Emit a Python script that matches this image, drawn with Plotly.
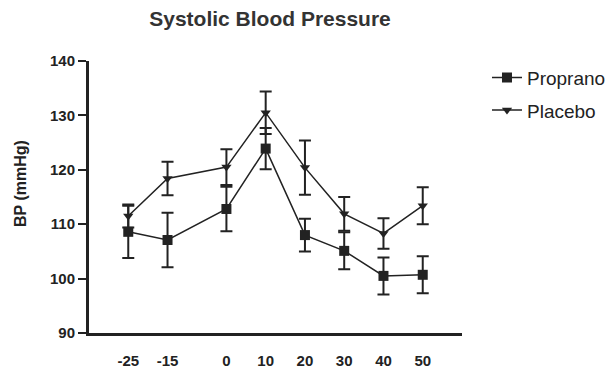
import plotly.graph_objects as go

time_min = [-25, -15, 0, 10, 20, 30, 40, 50]
propranolol = [108.6, 107.1, 112.8, 123.9, 108.0, 105.1, 100.5, 100.7]
propranolol_se = [4.8, 5.0, 4.1, 3.8, 3.0, 3.4, 3.4, 3.4]
placebo = [111.5, 118.4, 120.5, 130.5, 120.4, 111.9, 108.3, 113.4]
placebo_se = [2.1, 3.1, 3.3, 3.9, 5.0, 3.1, 2.8, 3.4]
y_ticks = [90, 100, 110, 120, 130, 140]

FONT = "Liberation Sans, Arial, sans-serif"
INK = "#222222"

fig = go.Figure()
fig.add_trace(go.Scatter(
    x=time_min, y=propranolol, name="Propranolol", legendgroup="a",
    mode="lines+markers",
    line=dict(color=INK, width=1.5),
    marker=dict(symbol="square", size=10, color=INK),
    error_y=dict(type="data", array=propranolol_se, visible=True,
                 color=INK, thickness=2, width=6),
))
fig.add_trace(go.Scatter(
    x=time_min, y=placebo, name="Placebo", legendgroup="b",
    mode="lines+markers",
    line=dict(color=INK, width=1.5),
    marker=dict(symbol="triangle-down", size=9, color=INK),
    error_y=dict(type="data", array=placebo_se, visible=True,
                 color=INK, thickness=2, width=6),
))

fig.update_layout(
    width=605, height=370,
    margin=dict(l=89, r=143, t=61, b=37, autoexpand=False),
    paper_bgcolor="white", plot_bgcolor="white",
    font=dict(family=FONT, color=INK),
    title=dict(text="Systolic Blood Pressure", x=270/605, xanchor="center",
               y=1 - 19/370, yanchor="middle",
               font=dict(size=21, weight="bold", family=FONT, color="#333333")),
    showlegend=True,
    legend=dict(x=1.067, y=1.009, xanchor="left", yanchor="top",
                font=dict(size=19, family=FONT, color=INK),
                bgcolor="rgba(0,0,0,0)", tracegroupgap=5,
                traceorder="grouped", itemwidth=30),
    xaxis=dict(range=[-35, 60], tickvals=time_min, ticktext=[str(t) for t in time_min],
               showgrid=False, zeroline=False, showline=True, linecolor=INK, linewidth=3,
               ticks="", tickfont=dict(size=15, weight="bold", family=FONT, color=INK),
               ticklabelstandoff=12, automargin=False),
    yaxis=dict(range=[90, 140], tickvals=y_ticks,
               showgrid=False, zeroline=False, showline=True, linecolor=INK, linewidth=3,
               ticks="outside", ticklen=8, tickwidth=2, tickcolor=INK,
               tickfont=dict(size=15, weight="bold", family=FONT, color=INK),
               automargin=False),
    annotations=[dict(text="BP (mmHg)", textangle=-90, xref="paper", yref="paper",
                      x=-(89 - 20) / 373, y=1 - (184 - 61) / 272,
                      xanchor="center", yanchor="middle", showarrow=False,
                      font=dict(size=16, weight="bold", family=FONT, color=INK))],
)

fig.write_html("out.html")
